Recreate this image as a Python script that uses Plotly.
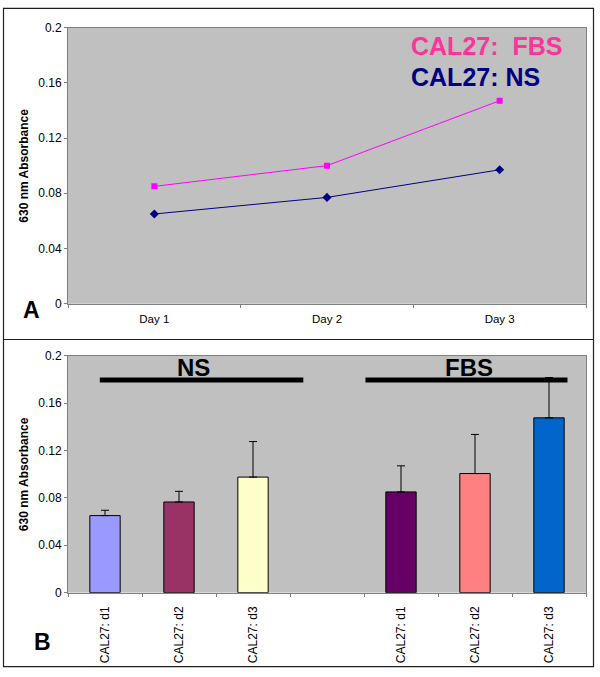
import plotly.graph_objects as go

W, H = 600, 677
FONT = "Liberation Sans, Arial, sans-serif"

# ---- Panel A data ----
days = ["Day 1", "Day 2", "Day 3"]
fbs_series = [0.085, 0.100, 0.147]
ns_series = [0.065, 0.077, 0.097]

# ---- Panel B data ----
bar_keys = ["NS d1", "NS d2", "NS d3", "gap", "FBS d1", "FBS d2", "FBS d3"]
bar_labels = ["CAL27: d1", "CAL27: d2", "CAL27: d3", "", "CAL27: d1", "CAL27: d2", "CAL27: d3"]
bar_x = ["NS d1", "NS d2", "NS d3", "FBS d1", "FBS d2", "FBS d3"]
bar_values = [0.065, 0.0765, 0.0975, 0.085, 0.1005, 0.1475]
bar_errors = [0.0045, 0.009, 0.030, 0.022, 0.033, 0.034]
bar_colors = ["#9999FF", "#993366", "#FFFFCC", "#660066", "#FF8080", "#0066CC"]
y_ticks = [0, 0.04, 0.08, 0.12, 0.16, 0.2]


def px(x):
    return x / W


def py(y):
    return 1 - y / H


fig = go.Figure()

fig.add_trace(go.Scatter(
    x=days, y=fbs_series, mode="lines+markers", xaxis="x", yaxis="y",
    line=dict(color="#FF00FF", width=1),
    marker=dict(symbol="square", size=6, color="#FF00FF"),
    showlegend=False, hoverinfo="skip"))
fig.add_trace(go.Scatter(
    x=days, y=ns_series, mode="lines+markers", xaxis="x", yaxis="y",
    line=dict(color="#000080", width=1),
    marker=dict(symbol="diamond", size=7, color="#000080"),
    showlegend=False, hoverinfo="skip"))

fig.add_trace(go.Bar(
    x=bar_x, y=bar_values, xaxis="x2", yaxis="y2", width=0.41,
    marker=dict(color=bar_colors, line=dict(color="black", width=1)),
    error_y=dict(type="data", array=bar_errors, arrayminus=[0] * len(bar_errors),
                 symmetric=False, color="black", thickness=1, width=4),
    showlegend=False, hoverinfo="skip"))

axis_common = dict(showgrid=False, zeroline=False, showline=True, mirror=True,
                   linecolor="#808080", linewidth=1, ticks="outside", ticklen=3,
                   tickcolor="#808080", tickfont=dict(family=FONT, size=12, color="black"))

fig.update_layout(
    width=W, height=H, margin=dict(l=0, r=0, t=0, b=0),
    paper_bgcolor="white", plot_bgcolor="#C0C0C0",
    font=dict(family=FONT, color="black"),
    bargap=0.5,
    xaxis=dict(axis_common, type="category", domain=[px(68), px(586)], anchor="y",
               range=[-0.5, 2.5], tickson="boundaries", ticklabelstandoff=4,
               tickfont=dict(family=FONT, size=11.5, color="black")),
    yaxis=dict(axis_common, domain=[py(303), py(21)], anchor="x",
               range=[0, 0.2], tickvals=y_ticks),
    xaxis2=dict(axis_common, type="category", domain=[px(68), px(586)], anchor="y2",
                categoryorder="array", categoryarray=bar_keys,
                tickvals=bar_keys, ticktext=bar_labels, tickangle=-90,
                range=[-0.5, 6.5], tickson="boundaries", ticklabelstandoff=8,
                tickfont=dict(family=FONT, size=12, color="black")),
    yaxis2=dict(axis_common, domain=[py(598), py(356)], anchor="x2",
                range=[0, 0.2], tickvals=y_ticks),
)

shapes = [
    dict(type="rect", xref="paper", yref="paper", x0=px(3.5), x1=px(593.5),
         y0=py(673.5), y1=py(1.5), line=dict(color="#202020", width=1.2)),
    dict(type="line", xref="paper", yref="paper", x0=px(3.5), x1=px(593.5),
         y0=py(339.5), y1=py(339.5), line=dict(color="#202020", width=1.2)),
    dict(type="line", xref="x2", yref="y2", x0=-0.07, x1=2.68, y0=0.1795, y1=0.1795,
         line=dict(color="black", width=5)),
    dict(type="line", xref="x2", yref="y2", x0=3.52, x1=6.25, y0=0.1795, y1=0.1795,
         line=dict(color="black", width=5)),
]
fig.update_layout(shapes=shapes)

ann = []
# legend-like labels
ann.append(dict(xref="paper", yref="paper", x=px(409), y=py(39.5), xanchor="left",
                yanchor="middle", showarrow=False, text="<b>CAL27:  FBS</b>",
                font=dict(family=FONT, size=25, color="#FF3399")))
ann.append(dict(xref="paper", yref="paper", x=px(409), y=py(71), xanchor="left",
                yanchor="middle", showarrow=False, text="<b>CAL27: NS</b>",
                font=dict(family=FONT, size=25, color="#000080")))
# y titles
for cy in (162, 477):
    ann.append(dict(xref="paper", yref="paper", x=px(24), y=py(cy), xanchor="center",
                    yanchor="middle", showarrow=False, textangle=-90,
                    text="<b>630 nm Absorbance</b>",
                    font=dict(family=FONT, size=12, color="black")))
# panel letters
ann.append(dict(xref="paper", yref="paper", x=px(21), y=py(309), xanchor="left",
                yanchor="middle", showarrow=False, text="<b>A</b>",
                font=dict(family=FONT, size=23, color="black")))
ann.append(dict(xref="paper", yref="paper", x=px(32), y=py(648.5), xanchor="left",
                yanchor="middle", showarrow=False, text="<b>B</b>",
                font=dict(family=FONT, size=23, color="black")))
# group labels
ann.append(dict(xref="paper", yref="paper", x=px(194), y=py(368), xanchor="center",
                yanchor="middle", showarrow=False, text="<b>NS</b>",
                font=dict(family=FONT, size=24, color="black")))
ann.append(dict(xref="paper", yref="paper", x=px(469), y=py(368), xanchor="center",
                yanchor="middle", showarrow=False, text="<b>FBS</b>",
                font=dict(family=FONT, size=24, color="black")))
fig.update_layout(annotations=ann)

fig.write_html("out.html", config={"displayModeBar": False},
               post_script="document.body.style.margin='0';document.body.style.overflow='hidden';")
